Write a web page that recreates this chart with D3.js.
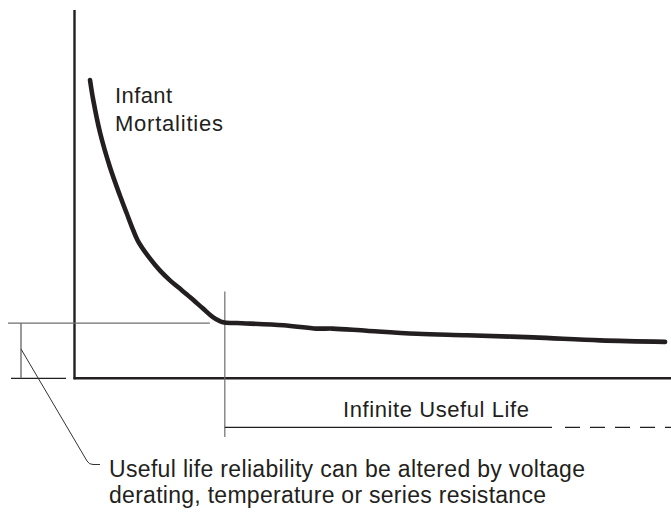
<!DOCTYPE html>
<html lang="en">
<head>
  <meta charset="utf-8" />
  <title>Failure rate curve</title>
  <style type="text/css">
    body { margin: 0; background: #fff; }
    text { font-family: "Liberation Sans", Arial, Helvetica, sans-serif; fill: #231f20; }
  </style>
</head>
<body>
  <div id="graphic"></div>

  <script src="https://cdn.jsdelivr.net/npm/d3@7/dist/d3.min.js"></script>
  <script>
    // time (0-100) and failure rate (0-100)
    var timeVals = [2.6, 3.15, 4.3, 5.95, 7.6, 8.75, 9.6, 10.6, 12.7, 14.3, 16.0, 17.4, 19.4, 21.5, 23.2, 24.9, 27.2, 35.0, 40.6, 43.3, 49.0, 57.4, 65.8, 76.9, 88.1, 99.0];
    var rateVals = [81.0, 75.5, 66.6, 57.3, 49.7, 44.8, 41.2, 37.4, 32.4, 29.3, 26.6, 24.7, 22.0, 19.0, 16.6, 15.2, 15.0, 14.4, 13.5, 13.5, 12.9, 12.1, 11.7, 11.1, 10.3, 9.9];

    // where the useful-life region starts and its reliability level
    var usefulStart = 25.2;
    var usefulRate = 15.0;

    var curveLabel = ["Infant", "Mortalities"];
    var lifeLabel = "Infinite Useful Life";
    var noteLines = ["Useful life reliability can be altered by voltage",
                     "derating, temperature or series resistance"];

    var width = 671, height = 512;
    var ink = "#231f20", grey = "#6d6e71";

    var svg = d3.select('#graphic').append('svg')
      .attr('width', width)
      .attr('height', height);

    var x = d3.scaleLinear().domain([0, 100]).range([74.5, 671]);
    var y = d3.scaleLinear().domain([0, 100]).range([378.3, 10]);

    // axes (plain lines, no ticks)
    svg.append('line')
      .attr('x1', x(0)).attr('x2', x(0))
      .attr('y1', y(100)).attr('y2', y(0) + 1)
      .attr('stroke', ink).attr('stroke-width', 2.4);
    svg.append('line')
      .attr('x1', x(0) - 1).attr('x2', width)
      .attr('y1', y(0)).attr('y2', y(0))
      .attr('stroke', ink).attr('stroke-width', 2.4);

    // reference lines for the useful-life level
    svg.append('line')
      .attr('x1', 8).attr('x2', x(usefulStart) - 15)
      .attr('y1', y(usefulRate)).attr('y2', y(usefulRate))
      .attr('stroke', grey).attr('stroke-width', 1.2);
    svg.append('line')
      .attr('x1', 11).attr('x2', 66)
      .attr('y1', y(0)).attr('y2', y(0))
      .attr('stroke', ink).attr('stroke-width', 1.2);
    svg.append('line')
      .attr('x1', 21).attr('x2', 21)
      .attr('y1', y(usefulRate)).attr('y2', y(0))
      .attr('stroke', grey).attr('stroke-width', 1.4);

    // vertical marker at start of useful life
    svg.append('line')
      .attr('x1', x(usefulStart)).attr('x2', x(usefulStart))
      .attr('y1', 291.5).attr('y2', 437)
      .attr('stroke', grey).attr('stroke-width', 1.2);

    // useful-life span: solid then dashed
    svg.append('line')
      .attr('x1', x(usefulStart)).attr('x2', 552)
      .attr('y1', 427.3).attr('y2', 427.3)
      .attr('stroke', ink).attr('stroke-width', 1.3);
    svg.append('line')
      .attr('x1', 565).attr('x2', width)
      .attr('y1', 427.3).attr('y2', 427.3)
      .attr('stroke', ink).attr('stroke-width', 1.3)
      .attr('stroke-dasharray', '15 10');

    // leader from the bracket to the note
    svg.append('path')
      .attr('d', 'M21,349 L87,461 Q89,464.5 93,464.5 L100,464.5')
      .attr('fill', 'none')
      .attr('stroke', '#333').attr('stroke-width', 1);

    // the failure rate curve
    var pts = timeVals.map(function(t, i) { return [t, rateVals[i]]; });
    var line = d3.line()
      .x(function(d) { return x(d[0]); })
      .y(function(d) { return y(d[1]); })
      .curve(d3.curveCatmullRom.alpha(0.5));

    svg.append('path')
      .datum(pts)
      .attr('d', line)
      .attr('fill', 'none')
      .attr('stroke', ink)
      .attr('stroke-width', 4.6)
      .attr('stroke-linecap', 'round')
      .attr('stroke-linejoin', 'round');

    // labels
    svg.append('text').attr('x', 115).attr('y', 102.5)
      .style('font-size', '22px')
      .attr('textLength', 57).attr('lengthAdjust', 'spacing')
      .text(curveLabel[0]);
    svg.append('text').attr('x', 115).attr('y', 131)
      .style('font-size', '22px')
      .attr('textLength', 108).attr('lengthAdjust', 'spacing')
      .text(curveLabel[1]);

    svg.append('text').attr('x', 343).attr('y', 417.3)
      .style('font-size', '22px')
      .attr('textLength', 186).attr('lengthAdjust', 'spacing')
      .text(lifeLabel);

    var noteWidths = [476, 437];
    svg.selectAll('.note')
      .data(noteLines)
      .enter()
      .append('text')
      .attr('class', 'note')
      .attr('x', 109)
      .attr('y', function(d, i) { return 476.7 + i * 26.5; })
      .style('font-size', '23px')
      .attr('textLength', function(d, i) { return noteWidths[i]; })
      .attr('lengthAdjust', 'spacing')
      .text(function(d) { return d; });
  </script>
</body>
</html>
